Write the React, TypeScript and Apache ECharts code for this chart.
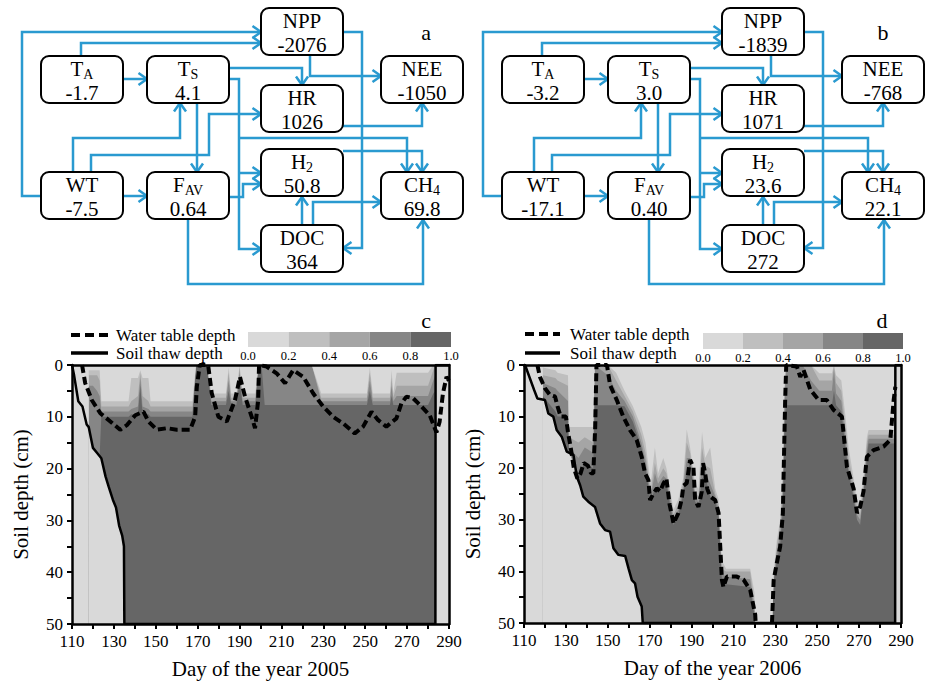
import React, { useEffect, useRef } from "react";
import * as echarts from "echarts";

const FONT = "'Liberation Serif', 'Times New Roman', Times, serif";
const ARROW_COLOR = "#2a9ad0";

// ---------------- Panels a, b : path diagrams ----------------
const nodeNames = ["NPP", "TA", "TS", "HR", "NEE", "WT", "FAV", "H2", "CH4", "DOC"];
const nodeMain = ["NPP", "T", "T", "HR", "NEE", "WT", "F", "H", "CH", "DOC"];
const nodeSub = ["", "A", "S", "", "", "", "AV", "2", "4", ""];
const nodeValues2005 = ["-2076", "-1.7", "4.1", "1026", "-1050", "-7.5", "0.64", "50.8", "69.8", "364"];
const nodeValues2006 = ["-1839", "-3.2", "3.0", "1071", "-768", "-17.1", "0.40", "23.6", "22.1", "272"];
const panelLetters = ["a", "b", "c", "d"];
const legendNames = ["Water table depth", "Soil thaw depth"];

// layout of the diagram (panel-local pixel units)
const boxLayout: Record<string, [number, number]> = {
  NPP: [261, 8], TA: [41, 56], TS: [147, 56], HR: [261, 85], NEE: [381, 56],
  WT: [41, 172], FAV: [147, 172], H2: [261, 149], CH4: [381, 172], DOC: [261, 225],
};
const BOX_W = 82;
const BOX_H = 47;
const arrowRoutes: number[][][] = [
  [[41, 196], [22, 196], [22, 32], [261, 32]],
  [[81, 56], [81, 43], [261, 43]],
  [[123, 79], [147, 79]],
  [[229, 68], [302, 68], [302, 85]],
  [[229, 79], [239, 79], [239, 249], [261, 249]],
  [[239, 173], [261, 173]],
  [[239, 138], [407, 138], [407, 172]],
  [[343, 151], [422, 151], [422, 172]],
  [[310, 55], [310, 76], [381, 76]],
  [[343, 32], [362, 32], [362, 248], [343, 248]],
  [[343, 126], [422, 126], [422, 103]],
  [[73, 172], [73, 138], [180, 138], [180, 103]],
  [[91, 172], [91, 155], [209, 155], [209, 114], [261, 114]],
  [[197, 103], [197, 172]],
  [[123, 196], [147, 196]],
  [[229, 197], [243, 197], [243, 184], [261, 184]],
  [[302, 225], [302, 197]],
  [[313, 225], [313, 202], [381, 202]],
  [[188, 220], [188, 284], [423, 284], [423, 220]],
];

// ---------------- Panels c, d : soil profiles ----------------
const shadeLevels = [0, 0.2, 0.4, 0.6, 0.8, 1.0];
const shadeColors = ["#d9d9d9", "#bfbfbf", "#a5a5a5", "#868686", "#666666"];

// [day, depth cm]
const waterTable2005 = [
  [114.8, 0], [116.3, 3.5], [119.5, 6.8], [123.5, 9.3], [128.3, 10.9], [133, 12.5], [136.2, 11.6],
  [140.2, 9.7], [144.1, 9], [146.5, 10.9], [150.5, 12.5], [155.3, 12.2], [160, 12.5], [166.4, 12.5],
  [168.8, 10], [169.6, 4.2], [171, 0], [175, 0], [176.7, 5.4], [179.9, 10], [183.9, 10.9], [187.8, 6.8],
  [190.2, 2.3], [192.6, 6.1], [195.8, 10], [197.4, 12.2], [198.9, 6.8], [199.3, 0], [202.9, 0.3],
  [207.7, 1.6], [211.7, 3.5], [215.6, 1], [220.4, 2.3], [225.2, 5.5], [229.9, 8], [234.7, 10],
  [239.5, 11.3], [245, 13.2], [249, 11.9], [253, 9], [256.1, 10.6], [260.1, 11.9], [264.9, 10.3],
  [267.3, 7.4], [269.7, 6.1], [272.8, 6.4], [276.8, 8], [280.8, 9.7], [284, 13], [285.5, 11],
  [287.1, 5.5], [288.8, 2.3], [290, 3],
];
const thaw2005 = [
  [110, 0], [111, 2], [113, 7], [115, 8], [117, 11.5], [118, 12], [120, 16], [122, 17], [124, 18],
  [126, 21.5], [127.5, 23.5], [129.5, 26], [131, 27.5], [132.5, 31], [134, 33], [134.8, 35], [135, 50],
  [283.5, 50], [283.6, 0], [290, 0],
];
// [day, depth of 0.2, 0.4, 0.6, 0.8 contour]
const bands2005 = [
  [110, 50, 50, 50, 50], [117.8, 50, 50, 50, 50], [118, 1, 2, 4, 12], [120, 1, 2, 4, 16],
  [122, 1, 2, 5, 17], [123.2, 1, 3, 6, 17.5], [124, 7, 8, 9, 10], [137, 7, 8, 9, 10],
  [138.3, 2.5, 7, 8.5, 9.5], [141.5, 2.5, 6, 8, 9.5],
  [142.6, 1, 1.5, 2.5, 4], [143.7, 2.5, 6, 8, 9.5], [146.5, 2.5, 7, 8.5, 9.5], [147.5, 7, 8, 9, 10],
  [167.5, 7, 8, 9, 10], [169.2, 0, 0, 0, 0], [174.5, 0, 0, 0, 0], [176.5, 5.5, 6.3, 7, 7.7],
  [183.5, 5.5, 6.3, 7, 7.7], [184.8, 0.5, 1.5, 3, 5], [186, 5.5, 6.3, 7, 7.7], [188.5, 5.5, 6.3, 7, 7.7],
  [190, 0, 0.5, 1.5, 3], [191.5, 5.5, 6.3, 7, 7.7], [197.5, 5.5, 6.3, 7, 7.7], [199, 0, 0, 0, 0],
  [200.5, 0, 0, 0, 0], [202, 0, 0, 0, 7.7], [224.5, 0, 0, 0, 7.7], [229, 5.5, 6.3, 7, 7.7],
  [250.8, 5.5, 6.3, 7, 7.7], [252.2, 0.5, 1.5, 3, 5], [253.6, 5.5, 6.3, 7, 7.7], [261.8, 5.5, 6.3, 7, 7.7],
  [262.6, 1, 2.5, 4, 6], [263.4, 5.5, 6.3, 7, 7.7], [265, 1.5, 4, 6, 7.7], [280, 1.5, 4, 6, 7.7],
  [282.5, 0, 1, 3, 5.5], [283.5, 0, 0, 2, 5], [283.6, 0, 0, 0, 0], [290, 0, 0, 0, 0],
];

const waterTable2006 = [
  [116.4, 0], [117.6, 2.3], [120, 4.5], [122.4, 5.8], [124.8, 6.1], [126, 8], [127.5, 10], [130, 10],
  [131, 13], [132.3, 16], [133.8, 20], [135.5, 22], [137, 21], [138.5, 19], [140.5, 19.5], [142, 21],
  [143.1, 21], [144, 12], [144.6, 0], [149.6, 0], [151.1, 3.9], [154.3, 6.8], [157.4, 10], [160.6, 12.6],
  [163.8, 14.5], [166.2, 17.8], [167.8, 21], [169.4, 22.3], [170.2, 26.2], [171.8, 24.9], [173.4, 23.9],
  [175, 24.5], [176.5, 23], [178, 22], [179.5, 27], [181.4, 30.7], [183.7, 28.7], [185.3, 26],
  [186.1, 23.4], [187.7, 22.9], [189.3, 18.4], [190.9, 19.8], [191.7, 26.2], [193.3, 27.5], [194.9, 24.5],
  [195.5, 19], [196.5, 21], [197.5, 24], [198.9, 25.5], [201.3, 26.2], [202.9, 28.7], [203.7, 35.2],
  [204.5, 41.7], [205.2, 43], [206.9, 41], [211.6, 41], [214.8, 41.6], [218, 43.6], [220.4, 48.4],
  [220.6, 50], [224, "-"], [228.4, 50], [229.2, 41.7], [230.7, 38.4], [232.3, 35.2], [233.6, 28.7],
  [233.9, 22.3], [234.7, 6.8], [235.2, 0], [240.3, 0.3], [241.9, 2.3], [243.5, 1], [246.7, 4.8],
  [250.7, 6.8], [254.6, 6.8], [257.8, 8.7], [261.8, 10], [262.6, 13.3], [264.2, 19.8], [266.6, 22.9],
  [267.4, 24], [269, 28.7], [270.5, 27.5], [272.1, 24.5], [273.7, 17.8], [276.9, 16.5], [281.7, 15.8],
  [284.9, 14.5], [286.5, 6.8], [287.3, 4.2],
];
const thaw2006 = [
  [110, 0], [110.5, 0], [114.8, 4.8], [116.4, 6.5], [120, 6.8], [121.6, 9.4], [124, 10], [125.6, 12.6],
  [128, 13.9], [130.4, 16.8], [133.6, 17.4], [135.2, 21.6], [136.8, 23.3], [138.3, 25.5], [140.7, 26.5],
  [143.9, 27.5], [146.3, 30.7], [148.7, 32], [151.1, 32.3], [152.7, 35.5], [155.1, 36.8], [158.3, 37],
  [159.9, 39.4], [161.5, 41.7], [163, 42.3], [164.2, 44.9], [166.2, 46.8], [166.7, 50], [287.2, 50],
  [287.3, 0], [290, 0],
];
const bands2006 = [
  [110, 50, 50, 50, 50], [118.9, 50, 50, 50, 50], [119, 0.5, 2, 3.5, 6], [125, 1, 2.5, 4.5, 9],
  [126, 1.5, 3, 5, 10], [131, 2, 4, 7, 10], [131.5, 12, 14, 16, 17], [136, 12, 15, 18, 21],
  [139, 12, 14, 16, 19], [143, 12, 15, 17, 20], [143.8, 0, 0, 0, 7.8], [150, 0, 0, 2, 7.8],
  [154, 1.5, 3, 5, 7.8], [158, 5, 6, 7, 8], [162, 8, 9, 10, 11], [166, 12, 13.5, 15, 16],
  [168, 15, 17, 18.5, 20], [170.5, 23, 24.5, 25.5, 26.5], [172.5, 16, 19, 21, 24], [174, 21, 22, 23, 24],
  [176.5, 18, 20, 21.5, 23], [178, 20, 21, 22, 23], [181.4, 28, 29, 30, 31], [183.7, 26, 27, 28, 29],
  [186, 22, 23, 24, 25], [187.7, 12.5, 15, 18, 21], [189.3, 16, 17, 18, 19], [191.7, 23, 24.5, 25.5, 26.5],
  [193.3, 24, 25.5, 26.5, 27.5], [195, 13, 16, 19, 22], [196.5, 18, 19.5, 20.5, 21.5],
  [198.9, 16, 20, 23, 25.5], [201.3, 24, 25, 25.5, 26.5], [202.9, 26, 27, 28, 29], [204.5, 38, 39.5, 40.5, 42],
  [206.5, 39.5, 40, 41, 42.5], [218, 39.5, 40, 41.5, 43], [220, 44, 46, 47, 48.5], [220.5, 50, 50, 50, 50],
  [228.5, 50, 50, 50, 50], [229.2, 40, 41, 41.5, 42], [230.7, 34, 35, 36.5, 38], [232.3, 30, 31, 33, 35],
  [233.6, 20, 22, 25, 28], [234.2, 5, 8, 12, 15], [235, 0, 0, 0, 7.8], [243, 0, 0, 0, 7.8],
  [247, 0, 0, 3, 7.8], [251, 1.6, 3, 5, 7.8], [257, 1.6, 3, 5, 7.8], [258, 0, 0, 1, 5],
  [259, 2, 3.5, 5.5, 7.8], [261.5, 3, 5, 7, 9], [263.5, 10, 12, 14, 16], [265, 16, 18, 20, 21],
  [267, 21, 22.5, 24, 25], [269, 26, 27.5, 29, 30], [270.5, 27, 29, 30, 31], [272, 22, 23.5, 24.5, 25],
  [273.7, 14, 15, 16.5, 18], [274.5, 12.6, 13.5, 14.3, 15.2], [287.2, 12.6, 13.5, 14.3, 15.2],
  [287.3, 0, 0, 0, 0], [290, 0, 0, 0, 0],
];

const yearLabels = ["Day of the year 2005", "Day of the year 2006"];

// ---------------- rendering helpers ----------------
const rich = {
  m: { fontSize: 21, fontFamily: FONT, lineHeight: 24, fill: "#000", color: "#000" },
  s: { fontSize: 14, fontFamily: FONT, lineHeight: 12, verticalAlign: "bottom", fill: "#000", color: "#000" },
};

function boxRenderer(values: string[]) {
  return (params: any, api: any) => {
    const i = params.dataIndex;
    const p0 = api.coord([api.value(0), api.value(1)]);
    const p1 = api.coord([api.value(0) + BOX_W, api.value(1) + BOX_H]);
    const cx = (p0[0] + p1[0]) / 2;
    const cy = (p0[1] + p1[1]) / 2;
    const first = nodeSub[i] ? `{m|${nodeMain[i]}}{s|${nodeSub[i]}}` : `{m|${nodeMain[i]}}`;
    return {
      type: "group",
      children: [
        {
          type: "rect",
          shape: { x: p0[0], y: p0[1], width: p1[0] - p0[0], height: p1[1] - p0[1], r: 8 },
          style: { fill: "#fff", stroke: "#000", lineWidth: 2 },
        },
        {
          type: "text",
          x: cx,
          y: cy + 1.5,
          style: {
            text: `${first}\n{m|${values[i]}}`,
            rich,
            align: "center",
            verticalAlign: "middle",
            fontFamily: FONT,
            fontSize: 21,
            fill: "#000",
          },
        },
      ],
    };
  };
}

function arrowRenderer(params: any, api: any) {
  const pts = arrowRoutes[params.dataIndex].map((p) => api.coord(p));
  const n = pts.length;
  const tip = pts[n - 1];
  const prev = pts[n - 2];
  const dx = tip[0] - prev[0];
  const dy = tip[1] - prev[1];
  const len = Math.hypot(dx, dy) || 1;
  const ux = dx / len;
  const uy = dy / len;
  const L = 8.5;
  const W = 6;
  const bx = tip[0] - ux * L;
  const by = tip[1] - uy * L;
  const head = [[bx - uy * W, by + ux * W], tip, [bx + uy * W, by - ux * W]];
  return {
    type: "group",
    children: [
      { type: "polyline", shape: { points: pts }, style: { stroke: ARROW_COLOR, lineWidth: 2.5, fill: null } },
      { type: "polyline", shape: { points: head }, style: { stroke: ARROW_COLOR, lineWidth: 2.5, fill: null } },
    ],
  };
}

function colorbarRenderer(params: any, api: any) {
  const p0 = api.coord([api.value(0), 1]);
  const p1 = api.coord([api.value(1), 0]);
  return {
    type: "rect",
    shape: { x: p0[0], y: p0[1], width: p1[0] - p0[0], height: p1[1] - p0[1] },
    style: { fill: shadeColors[params.dataIndex] },
  };
}

function fillSeries(name: string, data: any[], xi: number, color: string, z: number) {
  return {
    name,
    type: "line",
    xAxisIndex: xi,
    yAxisIndex: xi,
    data,
    symbol: "none",
    silent: true,
    lineStyle: { width: 0, opacity: 0 },
    areaStyle: { color, opacity: 1 },
    z,
  };
}

function profileSeries(bands: number[][], thaw: any[], wt: any[], xi: number, tag: string) {
  return [
    fillSeries("thawFill" + tag, thaw, xi, shadeColors[4], 1),
    fillSeries("b08" + tag, bands.map((r) => [r[0], r[4]]), xi, shadeColors[3], 2),
    fillSeries("b06" + tag, bands.map((r) => [r[0], r[3]]), xi, shadeColors[2], 3),
    fillSeries("b04" + tag, bands.map((r) => [r[0], r[2]]), xi, shadeColors[1], 4),
    fillSeries("b02" + tag, bands.map((r) => [r[0], r[1]]), xi, shadeColors[0], 5),
    {
      name: legendNames[0],
      type: "line",
      xAxisIndex: xi,
      yAxisIndex: xi,
      data: wt,
      symbol: "none",
      connectNulls: false,
      lineStyle: { color: "#000", width: 4, type: [8, 4] },
      z: 7,
    },
    {
      name: legendNames[1],
      type: "line",
      xAxisIndex: xi,
      yAxisIndex: xi,
      data: thaw,
      symbol: "none",
      lineStyle: { color: "#000", width: 2.5 },
      z: 7,
    },
  ];
}

const axisFont = { fontFamily: FONT, fontSize: 17, color: "#000" };
const nameFont = { fontFamily: FONT, fontSize: 21, color: "#000" };
const blackLine = { lineStyle: { color: "#000", width: 2.5 } };

function hiddenAxis(gridIndex: number, max: number, inverse = false) {
  return { type: "value", gridIndex, min: 0, max, show: false, inverse };
}

function profileAxes(gridIndex: number, yearLabel: string) {
  const xBottom = {
    type: "value",
    gridIndex,
    min: 110,
    max: 290,
    interval: 20,
    position: "bottom",
    z: 10,
    axisLine: { show: true, onZero: false, ...blackLine },
    axisTick: { show: true, length: 5, lineStyle: { color: "#000", width: 2 } },
    minorTick: { show: true, splitNumber: 2, length: 5, lineStyle: { color: "#000", width: 2 } },
    splitLine: { show: false },
    axisLabel: { ...axisFont, margin: 9 },
    name: yearLabel,
    nameLocation: "middle",
    nameGap: 34,
    nameTextStyle: nameFont,
  };
  const xTop = {
    type: "value",
    gridIndex,
    min: 110,
    max: 290,
    position: "top",
    z: 10,
    axisLine: { show: true, onZero: false, ...blackLine },
    axisTick: { show: false },
    axisLabel: { show: false },
    splitLine: { show: false },
  };
  const yLeft = {
    type: "value",
    gridIndex,
    min: 0,
    max: 50,
    interval: 10,
    inverse: true,
    position: "left",
    z: 10,
    axisLine: { show: true, onZero: false, ...blackLine },
    axisTick: { show: true, length: 5, lineStyle: { color: "#000", width: 2 } },
    minorTick: { show: true, splitNumber: 2, length: 5, lineStyle: { color: "#000", width: 2 } },
    splitLine: { show: false },
    axisLabel: { ...axisFont, margin: 9 },
    name: "Soil depth (cm)",
    nameLocation: "middle",
    nameGap: 41,
    nameRotate: 90,
    nameTextStyle: nameFont,
  };
  const yRight = {
    type: "value",
    gridIndex,
    min: 0,
    max: 50,
    inverse: true,
    position: "right",
    z: 10,
    axisLine: { show: true, onZero: false, ...blackLine },
    axisTick: { show: false },
    axisLabel: { show: false },
    splitLine: { show: false },
  };
  return { xBottom, xTop, yLeft, yRight };
}

function colorbarAxes(gridIndex: number) {
  return {
    x: {
      type: "value",
      gridIndex,
      min: 0,
      max: 1,
      interval: 0.2,
      axisLine: { show: false },
      axisTick: { show: false },
      splitLine: { show: false },
      axisLabel: { fontFamily: FONT, fontSize: 12.5, color: "#000", margin: 2, formatter: (v: number) => v.toFixed(1) },
    },
    y: { type: "value", gridIndex, min: 0, max: 1, show: false },
  };
}

function legendGraphic(x0: number, x1: number, y0: number, y1: number, tx: number) {
  const font = `17px ${FONT}`;
  return [
    { type: "line", shape: { x1: x0, y1: y0, x2: x1, y2: y0 }, style: { stroke: "#000", lineWidth: 4, lineDash: [9, 5] } },
    { type: "text", x: tx, y: y0, style: { text: legendNames[0], font, fill: "#000", align: "left", verticalAlign: "middle", textAlign: "left", textVerticalAlign: "middle" } },
    { type: "line", shape: { x1: x0, y1: y1, x2: x1, y2: y1 }, style: { stroke: "#000", lineWidth: 3.5 } },
    { type: "text", x: tx, y: y1, style: { text: legendNames[1], font, fill: "#000", align: "left", verticalAlign: "middle", textAlign: "left", textVerticalAlign: "middle" } },
  ];
}

function buildOption() {
  const c = profileAxes(2, yearLabels[0]);
  const d = profileAxes(3, yearLabels[1]);
  const cbC = colorbarAxes(4);
  const cbD = colorbarAxes(5);
  const barData = shadeColors.map((_, i) => [shadeLevels[i], shadeLevels[i + 1]]);
  const letter = (text: string, x: number, y: number) => ({
    type: "text",
    x,
    y,
    style: { text, font: `22px ${FONT}`, fill: "#000", align: "center", verticalAlign: "middle", textAlign: "center", textVerticalAlign: "middle" },
  });
  const plotGrid = { show: true, backgroundColor: shadeColors[0], borderWidth: 0 };
  return {
    animation: false,
    backgroundColor: "#fff",
    grid: [
      { left: 0, top: 0, width: 470, height: 300 },
      { left: 461, top: 0, width: 464, height: 300 },
      { left: 72, top: 365, width: 377, height: 259, ...plotGrid },
      { left: 524, top: 365, width: 377, height: 258, ...plotGrid },
      { left: 248, top: 332, width: 203, height: 15 },
      { left: 703, top: 333, width: 200, height: 16 },
    ],
    xAxis: [hiddenAxis(0, 470), hiddenAxis(1, 464), c.xBottom, d.xBottom, cbC.x, cbD.x, c.xTop, d.xTop],
    yAxis: [hiddenAxis(0, 300, true), hiddenAxis(1, 300, true), c.yLeft, d.yLeft, cbC.y, cbD.y, c.yRight, d.yRight],
    graphic: [
      letter(panelLetters[0], 426, 32),
      letter(panelLetters[1], 883, 32),
      letter(panelLetters[2], 426, 320),
      letter(panelLetters[3], 882, 320),
      ...legendGraphic(71, 108, 335, 353, 116),
      ...legendGraphic(525, 560, 334, 353, 570),
    ],
    series: [
      { type: "custom", xAxisIndex: 0, yAxisIndex: 0, data: arrowRoutes.map((r) => r[r.length - 1]), renderItem: arrowRenderer, clip: false, silent: true, z: 2 },
      { type: "custom", xAxisIndex: 0, yAxisIndex: 0, data: nodeNames.map((n) => boxLayout[n]), renderItem: boxRenderer(nodeValues2005), clip: false, silent: true, z: 3 },
      { type: "custom", xAxisIndex: 1, yAxisIndex: 1, data: arrowRoutes.map((r) => r[r.length - 1]), renderItem: arrowRenderer, clip: false, silent: true, z: 2 },
      { type: "custom", xAxisIndex: 1, yAxisIndex: 1, data: nodeNames.map((n) => boxLayout[n]), renderItem: boxRenderer(nodeValues2006), clip: false, silent: true, z: 3 },
      ...profileSeries(bands2005, thaw2005, waterTable2005, 2, "c"),
      ...profileSeries(bands2006, thaw2006, waterTable2006, 3, "d"),
      { type: "custom", xAxisIndex: 4, yAxisIndex: 4, data: barData, renderItem: colorbarRenderer, silent: true },
      { type: "custom", xAxisIndex: 5, yAxisIndex: 5, data: barData, renderItem: colorbarRenderer, silent: true },
    ],
  };
}

export default function App() {
  const ref = useRef<HTMLDivElement>(null);
  useEffect(() => {
    document.body.style.margin = "0";
    if (!ref.current) return;
    const chart = echarts.init(ref.current, null, { renderer: "svg" });
    chart.setOption(buildOption() as any);
    return () => chart.dispose();
  }, []);
  return <div ref={ref} style={{ position: "absolute", left: 0, top: 0, width: 925, height: 683 }} />;
}
